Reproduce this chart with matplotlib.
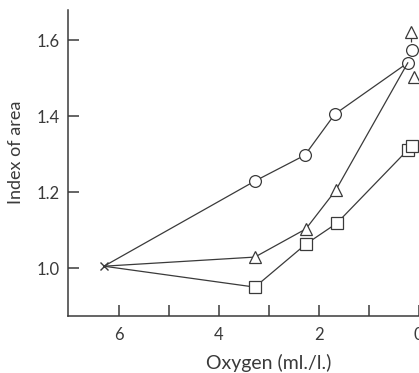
import matplotlib.pyplot as plt

plt.rcParams['font.family'] = ['Lato', 'DejaVu Sans']

# connected series (oxygen ml/l, index of area)
oxygen = [6.3, 3.28, 2.28, 1.68, 0.22]
circles = [1.005, 1.229, 1.297, 1.405, 1.54]
tri_oxygen = [6.3, 3.28, 2.26, 1.66, 0.22]
triangles = [1.005, 1.029, 1.103, 1.205, 1.54]
sq_oxygen = [6.3, 3.28, 2.26, 1.64, 0.22]
squares = [1.005, 0.95, 1.063, 1.118, 1.311]

# loose points near zero oxygen
extra_circle_x = [0.14]
extra_circle_y = [1.574]
extra_tri_x = [0.16, 0.09]
extra_tri_y = [1.621, 1.503]
extra_tri_err = [0.025, 0.0]
extra_sq_x = [0.14]
extra_sq_y = [1.321]

ink = '#3a3a3a'
fig = plt.figure(figsize=(4.19, 3.73), dpi=100)
ax = fig.add_axes([68 / 419, 57 / 373, 1 - 68 / 419 + 0.003, 306 / 373])

mk = dict(color=ink, lw=0.9, mfc='white', mec=ink, mew=0.9)
ax.plot(oxygen, circles, marker='o', ms=8.5, markevery=[1, 2, 3, 4], **mk)
ax.plot(tri_oxygen, triangles, marker='^', ms=8.5, markevery=[1, 2, 3], **mk)
ax.plot(sq_oxygen, squares, marker='s', ms=8.5, markevery=[1, 2, 3, 4], **mk)
ax.plot(oxygen[:1], circles[:1], marker='x', ms=6, color=ink, mew=1, ls='none')

ax.plot(extra_circle_x, extra_circle_y, marker='o', ms=8.5, ls='none',
        mfc='white', mec=ink, mew=0.9)
ax.errorbar(extra_tri_x, extra_tri_y, yerr=[extra_tri_err, [0, 0]], fmt='^',
            ms=8.5, mfc='white', mec=ink, mew=0.9, ecolor=ink, elinewidth=0.9)
ax.plot(extra_sq_x, extra_sq_y, marker='s', ms=8.5, ls='none',
        mfc='white', mec=ink, mew=0.9)

ax.set_xlim(7.02, -0.03)
ax.set_ylim(0.874, 1.679)
ax.set_xticks(range(7))
ax.set_xticklabels(['' if i % 2 else str(i) for i in range(7)])
ax.set_yticks([1.0, 1.2, 1.4, 1.6])
ax.set_yticklabels(['1.0', '1.2', '1.4', '1.6'])

for s in ['top', 'right']:
    ax.spines[s].set_visible(False)
for s in ['left', 'bottom']:
    ax.spines[s].set_color(ink)
    ax.spines[s].set_linewidth(1.1)
ax.tick_params(direction='in', length=8, width=1.1, color=ink,
               labelsize=12, labelcolor=ink)
ax.tick_params(axis='x', pad=8)
ax.tick_params(axis='y', pad=6)

ax.set_xlabel('Oxygen (ml./l.)', fontsize=14, color=ink)
ax.xaxis.set_label_coords((268 - 68) / 351, -0.125)
ax.set_ylabel('Index of area', fontsize=13, color=ink)
ax.yaxis.set_label_coords(-0.125, 0.535)

fig.savefig('out.png', dpi=100)
